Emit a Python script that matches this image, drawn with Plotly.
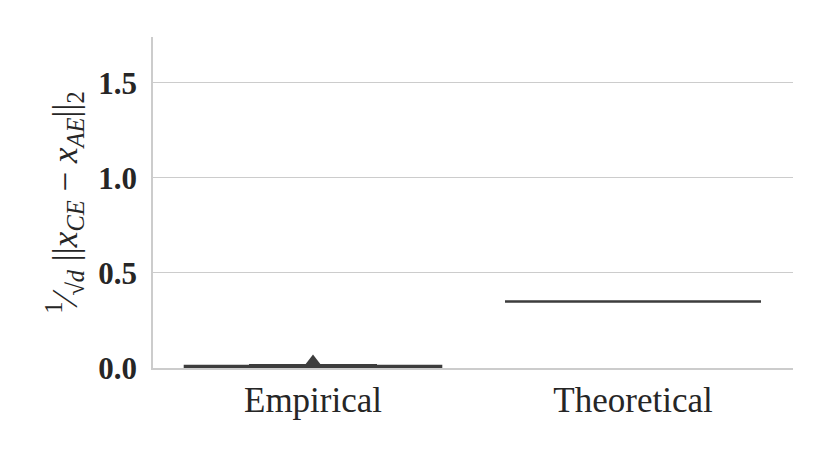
import plotly.graph_objects as go

# values
categories = ["Empirical", "Theoretical"]
lower = [0.002, 0.35]
q1 = [0.006, 0.35]
median = [0.008, 0.35]
q3 = [0.010, 0.35]
upper = [0.014, 0.35]
means = [0.032, 0.35]

dark = "#3d3d3d"
serif = "Liberation Serif"

fig = go.Figure()

fig.add_trace(go.Box(
    x=categories, q1=q1, median=median, q3=q3,
    lowerfence=lower, upperfence=upper,
    width=0.8, whiskerwidth=0.5,
    line=dict(color=dark, width=2.6),
    fillcolor=dark, boxpoints=False, showlegend=False,
))

# mean marker (Empirical only shows a visible triangle)
fig.add_trace(go.Scatter(
    x=categories[:1], y=means[:1], mode="markers",
    marker=dict(symbol="triangle-up", size=15, color=dark),
    showlegend=False,
))

fig.update_layout(
    width=830, height=453,
    margin=dict(l=145, r=45, t=29, b=93),
    plot_bgcolor="white", paper_bgcolor="white",
    font=dict(family=serif, color="#262626"),
    xaxis=dict(
        range=[-0.5, 1.5], showgrid=False, zeroline=False,
        showline=True, linecolor="#cccccc", linewidth=1.5,
        ticks="", tickfont=dict(size=35, family=serif, color="#262626"),
    ),
    yaxis=dict(
        range=[0, 1.742], tickvals=[0, 0.5, 1.0, 1.5],
        ticktext=["0.0", "0.5", "1.0", "1.5"],
        showgrid=True, gridcolor="#cccccc", gridwidth=1.3,
        zeroline=False, showline=True, linecolor="#cccccc", linewidth=1.5,
        ticks="", ticklen=0, ticklabelstandoff=8,
        tickfont=dict(size=31, family=serif, color="#262626", weight="bold"),
        title=dict(
            text="<sup>1</sup>⁄<sub>√<i>d</i></sub> ||<i>x</i><sub><i>CE</i></sub> − <i>x</i><sub><i>AE</i></sub>||<sub>2</sub>",
            font=dict(size=35, family=serif, color="#262626"),
            standoff=10,
        ),
    ),
)

fig.write_html("out.html")
